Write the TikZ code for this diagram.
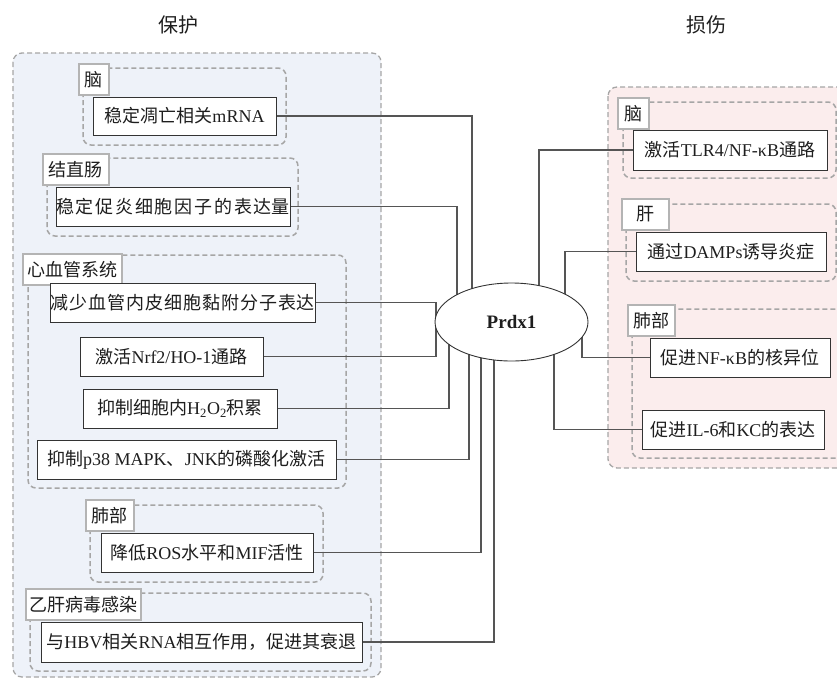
\documentclass[tikz,border=0pt]{standalone}
\usepackage{fontspec}
\setmainfont{Liberation Serif}
\newfontfamily\cjk{Noto Sans CJK SC}
\newcommand{\C}[1]{{\cjk #1}}
\newcommand{\Cs}[2]{{\cjk\addfontfeature{LetterSpace=#1}#2}}
\usetikzlibrary{shapes.geometric}
\pgfdeclarelayer{bg}
\pgfdeclarelayer{grp}
\pgfdeclarelayer{lines}
\pgfsetlayers{bg,grp,lines,main}
\definecolor{lfill}{HTML}{EEF2F9}
\definecolor{rfill}{HTML}{FBEDED}
\definecolor{dashc}{HTML}{A6A6A6}
\definecolor{lblc}{HTML}{B4B4B4}
\definecolor{connc}{HTML}{555555}
\definecolor{txtc}{HTML}{1E1E1E}
\tikzset{
  outerbox/.style={draw=dashc, line width=1.3pt, dash pattern=on 5pt off 3pt, rounded corners=9pt},
  grpbox/.style={draw=dashc, line width=1.5pt, dash pattern=on 5pt off 3pt, rounded corners=8pt},
  item/.style={draw=black!80, line width=0.9pt, fill=white, inner sep=0pt, text=txtc,
    font=\fontsize{18}{20}\selectfont, minimum height=39pt},
  lab/.style={draw=lblc, line width=1.8pt, fill=white, inner sep=0pt, text=txtc,
    font=\fontsize{18}{20}\selectfont, anchor=north west, minimum height=31pt},
  link/.style={draw=connc, line width=1.1pt},
  head/.style={text=txtc, font=\fontsize{20}{22}\selectfont},
}
\begin{document}
\begin{tikzpicture}[x=1pt, y=-1pt]
\useasboundingbox (0,0) rectangle (837,678);
% headers
\node[head] (h1) at (178,25) {\C{保护}};
\node[head] (h2) at (706,25) {\C{损伤}};
% outer containers
\begin{pgfonlayer}{bg}
\draw[outerbox, fill=lfill] (13,53) rectangle (381,677);
\draw[outerbox, fill=rfill] (608,87) rectangle (850,468);
\end{pgfonlayer}
% group frames
\begin{pgfonlayer}{grp}
\draw[grpbox] (83,68) rectangle (286,145);
\draw[grpbox] (47,158) rectangle (298,236);
\draw[grpbox] (28,255) rectangle (346,488);
\draw[grpbox] (90,505) rectangle (323,582);
\draw[grpbox] (30,593) rectangle (371,671);
\draw[grpbox] (623,102) rectangle (836,178);
\draw[grpbox] (626,204) rectangle (836,281);
\draw[grpbox] (632,309) rectangle (850,458);
\end{pgfonlayer}
% labels
\node[lab, minimum width=30pt] (a1) at (78,63) {\C{脑}};
\node[lab, minimum width=66pt] (a2) at (42,153) {\C{结直肠}};
\node[lab, minimum width=99pt] (a3) at (22,253) {\C{心血管系统}};
\node[lab, minimum width=48pt] (a4) at (85,499) {\C{肺部}};
\node[lab, minimum width=115pt] (a5) at (25,588) {\C{乙肝病毒感染}};
\node[lab, minimum width=31pt] (b1) at (617,97) {\C{脑}};
\node[lab, minimum width=47pt] (b2) at (621,198) {\C{肝}\hspace{12pt}};
\node[lab, minimum width=47pt] (b3) at (627,304) {\C{肺部}};
% left items
\node[item, minimum width=183pt, minimum height=38pt] (L1) at (184.5,116) {\C{稳定凋亡相关}mRNA};
\node[item, minimum width=232pt] (L2) at (173,206.5) {\Cs{10}{稳定促炎细胞因子的表达}\C{量}};
\node[item, minimum width=265pt] (L3) at (182.5,302.5) {\Cs{6}{减少血管内皮细胞黏附分子表}\C{达}};
\node[item, minimum width=183pt] (L4) at (171.5,356.5) {\C{激活}Nrf2/HO-1\C{通路}};
\node[item, minimum width=194pt] (L5) at (180,408.5) {\C{抑制细胞内}H\textsubscript{2}O\textsubscript{2}\C{积累}};
\node[item, minimum width=299pt] (L6) at (186.5,459.5) {\C{抑制}p38 MAPK\C{、}JNK\C{的磷酸化激活}};
\node[item, minimum width=212pt] (L7) at (207,552.5) {\C{降低}ROS\C{水平和}MIF\C{活性}};
\node[item, minimum width=321pt, minimum height=40pt] (L8) at (201.5,642) {\C{与}HBV\C{相关}RNA\C{相互作用，促进其衰退}};
% right items
\node[item, minimum width=194pt, minimum height=40pt] (R1) at (730,150) {\C{激活}TLR4/NF-κB\C{通路}};
\node[item, minimum width=190pt] (R2) at (731,251.5) {\C{通过}DAMPs\C{诱导炎症}};
\node[item, minimum width=180pt] (R3) at (740,357.5) {\C{促进}NF-κB\C{的核异位}};
\node[item, minimum width=182pt] (R4) at (733,429.5) {\C{促进}IL-6\C{和}KC\C{的表达}};
% centre
\node[ellipse, draw=black!80, line width=0.9pt, fill=white, minimum width=153pt, minimum height=78pt, inner sep=0pt, text=txtc] (P) at (511.5,322) {\fontsize{19}{20}\selectfont\bfseries Prdx1};
% connectors
\begin{pgfonlayer}{lines}
\draw[link] (L1.east) -| ([xshift=-39.5pt]P.center);
\draw[link] (L2.east) -| ([xshift=-54.5pt]P.center);
\draw[link] (L3.east) -| ([xshift=-75.5pt]P.center);
\draw[link] (L4.east) -| ([xshift=-75.5pt]P.center);
\draw[link] (L5.east) -| ([xshift=-62.5pt]P.center);
\draw[link] (L6.east) -| ([xshift=-42.5pt]P.center);
\draw[link] (L7.east) -| ([xshift=-30.5pt]P.center);
\draw[link] (L8.east) -| ([xshift=-17.5pt]P.center);
\draw[link] (R1.west) -| ([xshift=27.5pt]P.center);
\draw[link] (R2.west) -| ([xshift=53.5pt]P.center);
\draw[link] (R3.west) -| ([xshift=70.5pt]P.center);
\draw[link] (R4.west) -| ([xshift=42.5pt]P.center);
\end{pgfonlayer}
\end{tikzpicture}
\end{document}
